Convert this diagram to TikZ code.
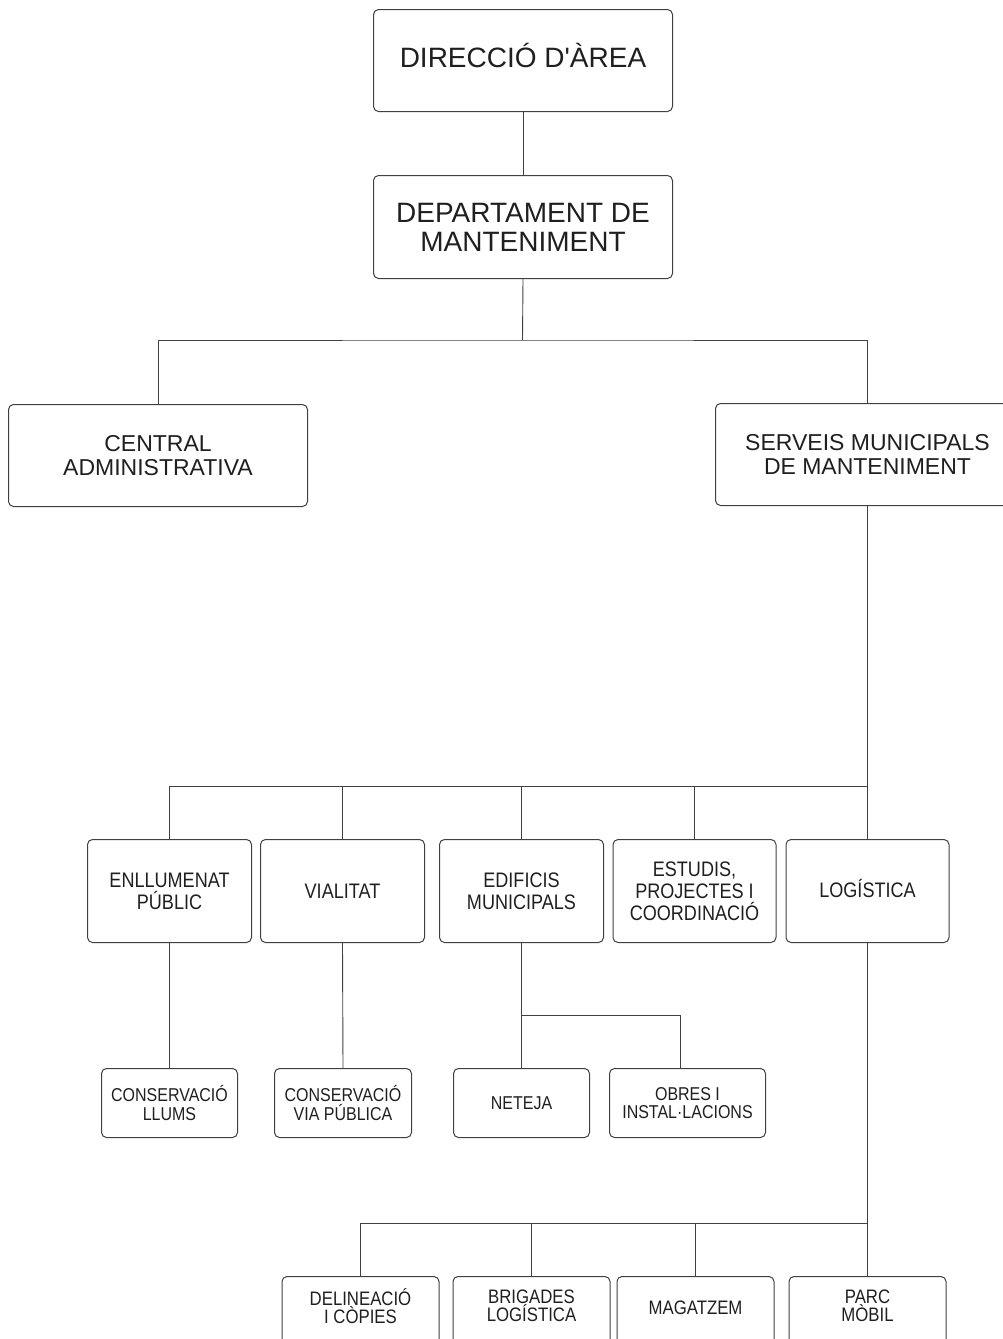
\documentclass[tikz,border=0pt]{standalone}
\usepackage{fontspec}
\setmainfont{Liberation Sans}
\newfontfamily\condfont[FakeStretch=0.86]{Liberation Sans}
\newcommand{\dpt}[1]{\rule[-#1]{0pt}{0pt}}
\begin{document}
\begin{tikzpicture}[x=1pt,y=-1pt,
  box/.style={draw=black!75, line width=1pt, rounded corners=5pt, anchor=north west,
    inner sep=0pt, align=center, text=black!88},
  topbox/.style={box, minimum width=299pt, minimum height=102pt, font=\fontsize{28}{29}\selectfont},
  midbox/.style={box, minimum height=102pt, font=\fontsize{23}{23.5}\selectfont},
  lthree/.style={box, minimum width=164pt, minimum height=103pt, font=\condfont\fontsize{21}{22}\selectfont},
  lfour/.style={box, minimum height=69pt, font=\condfont\fontsize{18.6}{18.3}\selectfont},
  lfive/.style={box, minimum width=157pt, minimum height=68pt, font=\condfont\fontsize{19.5}{18}\selectfont},
  conn/.style={draw=black!75, line width=0.9pt}]
\useasboundingbox (0,0) rectangle (1003,1339);
\clip (0,0) rectangle (1003,1339);

% level 1 and 2
\node[topbox] (dir) at (373,9) {DIRECCIÓ D\textquotesingle ÀREA\dpt{10pt}};
\node[topbox, minimum height=103pt] (dep) at (373,175) {DEPARTAMENT DE\\MANTENIMENT};
\node[midbox, minimum width=299pt] (cen) at (8,404) {CENTRAL\\ADMINISTRATIVA};
\node[midbox, minimum width=304pt] (ser) at (715,403) {SERVEIS MUNICIPALS\\DE MANTENIMENT};

% level 3
\node[lthree] (enl) at (87,839) {ENLLUMENAT\\PÚBLIC};
\node[lthree] (via) at (260,839) {VIALITAT};
\node[lthree] (edi) at (439,839) {EDIFICIS\\MUNICIPALS};
\node[lthree, minimum width=163pt] (est) at (612.5,839) {ESTUDIS,\\PROJECTES I\\COORDINACIÓ};
\node[lthree, minimum width=163pt] (log) at (785.5,839) {LOGÍSTICA\dpt{5pt}};

% level 4
\node[lfour, minimum width=136pt] (llu) at (101,1068) {CONSERVACIÓ\\LLUMS};
\node[lfour, minimum width=137pt] (vpu) at (274,1068) {CONSERVACIÓ\\VIA PÚBLICA};
\node[lfour, minimum width=136pt] (net) at (453,1068) {NETEJA};
\node[lfour, minimum width=156pt] (obr) at (609,1068) {OBRES I\\INSTAL·LACIONS};

% level 5
\node[lfive] (del) at (281.5,1276) {DELINEACIÓ\\I CÒPIES\dpt{9pt}};
\node[lfive] (bri) at (452.5,1276) {BRIGADES\\LOGÍSTICA\dpt{9pt}};
\node[lfive] (mag) at (616.5,1276) {MAGATZEM\dpt{5pt}};
\node[lfive] (par) at (788.5,1276) {PARC\\MÒBIL\dpt{9pt}};

% junction points
\coordinate (j2) at (522.5,340);
\coordinate (h3) at (867,786);
\coordinate (b4) at (521,1015);
\coordinate (b4r) at (680,1015);
\coordinate (h5) at (867,1223);

% connectors
\draw[conn] (dir.south) -- (dep.north);
\draw[conn] (dep.south) -- (j2);
\draw[conn] (cen.north) |- (j2) -| (ser.north);
\draw[conn] (ser.south) -- (log.north);
\draw[conn] (enl.north) |- (h3);
\draw[conn] (via.north) -- (via.north |- h3);
\draw[conn] (edi.north) -- (edi.north |- h3);
\draw[conn] (est.north) -- (est.north |- h3);
\draw[conn] (enl.south) -- (llu.north);
\draw[conn] (via.south) -- (vpu.north);
\draw[conn] (edi.south) -- (net.north);
\draw[conn] (b4) -- (b4r) -- (b4r |- obr.north);
\draw[conn] (log.south) -- (par.north);
\draw[conn] (del.north) |- (h5);
\draw[conn] (bri.north) -- (bri.north |- h5);
\draw[conn] (mag.north) -- (mag.north |- h5);
\end{tikzpicture}
\end{document}
